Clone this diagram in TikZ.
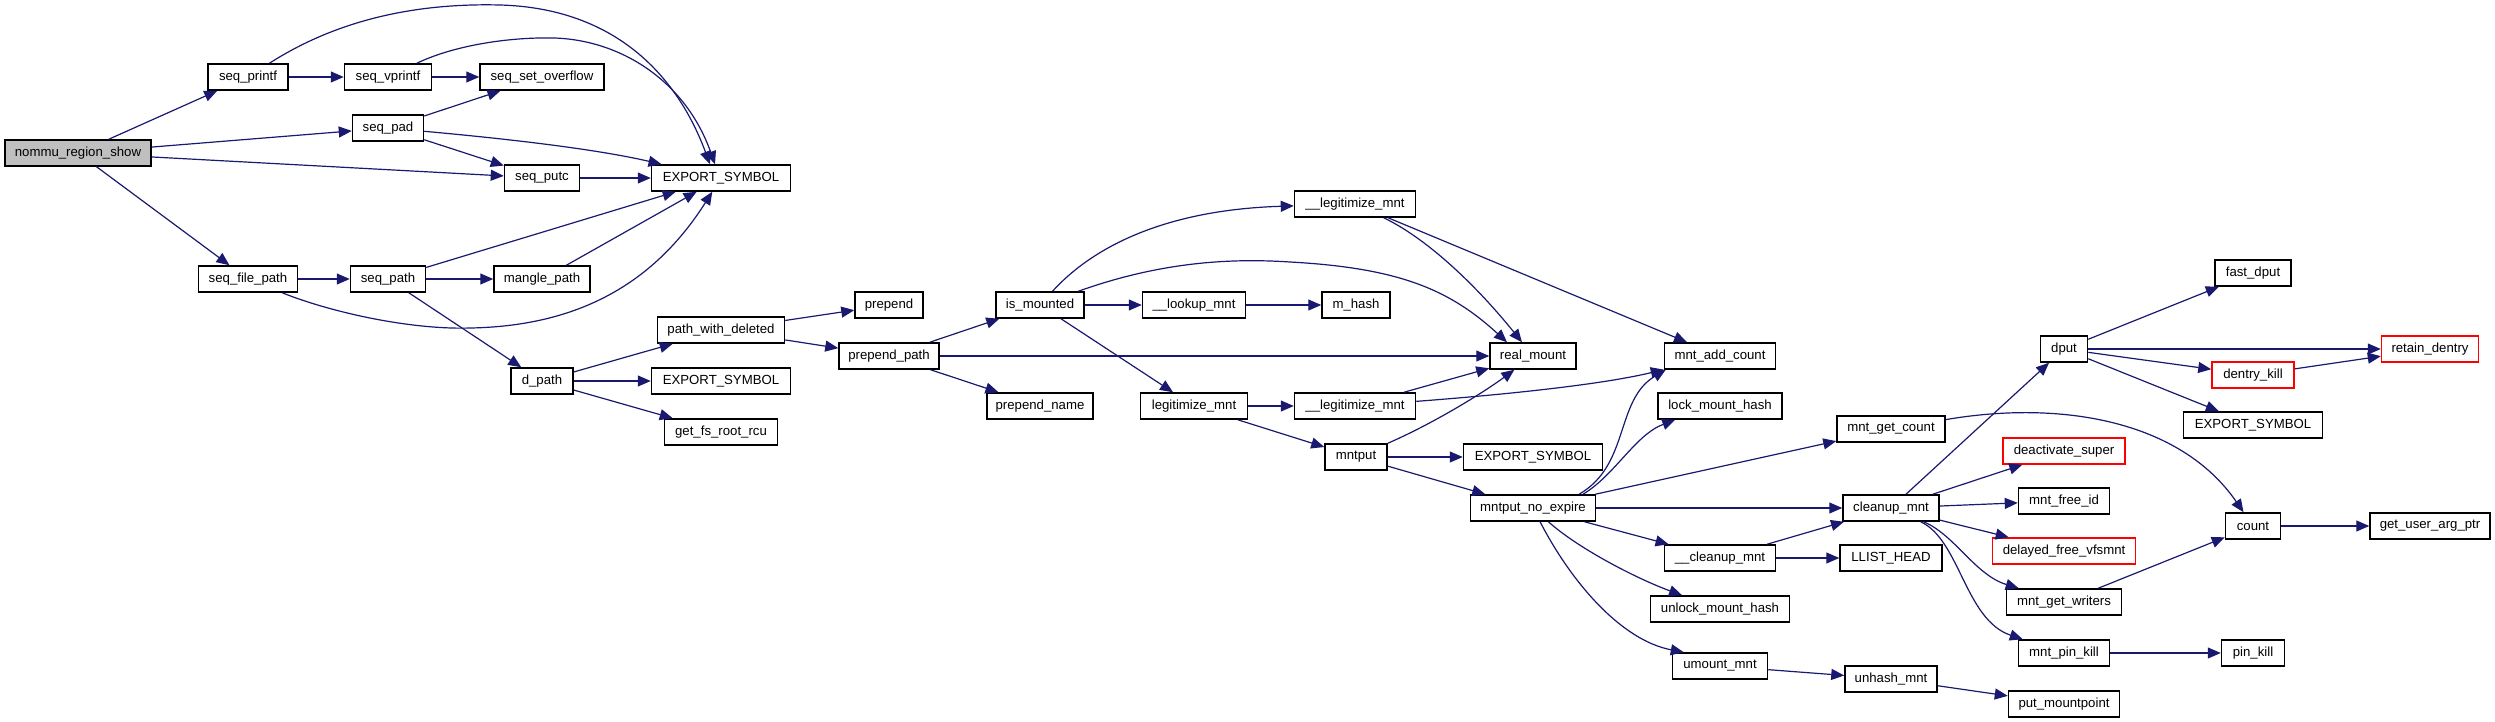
\documentclass[tikz,border=0pt]{standalone}
\usepackage{fontspec}
\setmainfont{Liberation Sans}
\usetikzlibrary{arrows.meta,calc}
\definecolor{navyc}{RGB}{25,25,112}
\definecolor{grayfill}{RGB}{191,191,191}
\begin{document}
\begin{tikzpicture}[x=0.5pt,y=-0.5pt,
  box/.style={draw=black, line width=0.75pt, fill=white, rectangle, minimum height=13pt, inner xsep=1pt, inner ysep=0pt, font=\fontsize{6.6}{8}\selectfont},
  redbox/.style={box, draw=red},
  edge/.style={draw=navyc, line width=0.6pt, -{Triangle[length=6.5pt,width=5.5pt]}}]
\fill[white] (0,0) rectangle (2495,722);
\useasboundingbox (0,0) rectangle (2495,722);
% nodes
\node[box, fill=grayfill, minimum width=73pt] (nommu) at (78,153) {nommu\_region\_show};
\node[box, minimum width=40pt] (sprintf) at (248,77) {seq\_printf};
\node[box, minimum width=43.5pt] (svprintf) at (388,77) {seq\_vprintf};
\node[box, minimum width=62pt] (soverflow) at (542,77) {seq\_set\_overflow};
\node[box, minimum width=35.5pt] (spad) at (388,128) {seq\_pad};
\node[box, minimum width=37.5pt] (sputc) at (542,178) {seq\_putc};
\node[box, minimum width=69.5pt] (expA) at (721,178) {EXPORT\_SYMBOL};
\node[box, minimum width=49.5pt] (sfpath) at (248,279) {seq\_file\_path};
\node[box, minimum width=37.5pt] (spath) at (388,279) {seq\_path};
\node[box, minimum width=48pt] (mangle) at (542,279) {mangle\_path};
\node[box, minimum width=63.5pt] (pwd) at (721,330) {path\_with\_deleted};
\node[box, minimum width=31pt] (dpath) at (542,381) {d\_path};
\node[box, minimum width=69.5pt] (expB) at (721,381) {EXPORT\_SYMBOL};
\node[box, minimum width=56.5pt] (gfr) at (721,432) {get\_fs\_root\_rcu};
\node[box, minimum width=34pt] (prepend) at (889,305) {prepend};
\node[box, minimum width=50pt] (ppath) at (889,356) {prepend\_path};
\node[box, minimum width=44pt] (ismounted) at (1040,305) {is\_mounted};
\node[box, minimum width=53pt] (pname) at (1040,406) {prepend\_name};
\node[box, minimum width=51.5pt] (lookup) at (1194,305) {\_\_lookup\_mnt};
\node[box, minimum width=53.5pt] (legit) at (1194,406) {legitimize\_mnt};
\node[box, minimum width=60.5pt] (ulegitA) at (1355,204) {\_\_legitimize\_mnt};
\node[box, minimum width=34pt] (mhash) at (1356,305) {m\_hash};
\node[box, minimum width=60.5pt] (ulegitB) at (1355,406) {\_\_legitimize\_mnt};
\node[box, minimum width=31pt] (mntput) at (1356,457) {mntput};
\node[box, minimum width=43pt] (realmount) at (1533,356) {real\_mount};
\node[box, minimum width=69.5pt] (expC) at (1533,457) {EXPORT\_SYMBOL};
\node[box, minimum width=62.5pt] (mne) at (1533,508) {mntput\_no\_expire};
\node[box, minimum width=55.5pt] (addcount) at (1720,356) {mnt\_add\_count};
\node[box, minimum width=62pt] (lockmh) at (1720,406) {lock\_mount\_hash};
\node[box, minimum width=55.5pt] (ucleanup) at (1720,558) {\_\_cleanup\_mnt};
\node[box, minimum width=69.5pt] (unlockmh) at (1720,609) {unlock\_mount\_hash};
\node[box, minimum width=47.5pt] (umount) at (1720,666) {umount\_mnt};
\node[box, minimum width=54pt] (getcount) at (1891,429) {mnt\_get\_count};
\node[box, minimum width=48pt] (cleanup) at (1891,508) {cleanup\_mnt};
\node[box, minimum width=51pt] (llist) at (1891,558) {LLIST\_HEAD};
\node[box, minimum width=46pt] (unhash) at (1891,679) {unhash\_mnt};
\node[box, minimum width=23.5pt] (dput) at (2064,349) {dput};
\node[redbox, minimum width=61pt] (deact) at (2064,451) {deactivate\_super};
\node[box, minimum width=45.5pt] (freeid) at (2064,501) {mnt\_free\_id};
\node[redbox, minimum width=71.5pt] (dfv) at (2064,551) {delayed\_free\_vfsmnt};
\node[box, minimum width=57.5pt] (writers) at (2064,602) {mnt\_get\_writers};
\node[box, minimum width=45.5pt] (pinkillm) at (2064,653) {mnt\_pin\_kill};
\node[box, minimum width=55.5pt] (putmp) at (2064,704) {put\_mountpoint};
\node[box, minimum width=38pt] (fastdput) at (2253,273) {fast\_dput};
\node[redbox, minimum width=41pt] (dkill) at (2253,375) {dentry\_kill};
\node[box, minimum width=69.5pt] (expD) at (2253,425) {EXPORT\_SYMBOL};
\node[box, minimum width=27.5pt] (count) at (2253,526) {count};
\node[box, minimum width=31.5pt] (pinkill) at (2253,653) {pin\_kill};
\node[redbox, minimum width=48.5pt] (retain) at (2430,349) {retain\_dentry};
\node[box, minimum width=60pt] (guap) at (2430,526) {get\_user\_arg\_ptr};
% edges
\draw[edge] (nommu) -- (sprintf);
\draw[edge] (nommu) -- (spad);
\draw[edge] (nommu) -- (sputc);
\draw[edge] (nommu) -- (sfpath);
\draw[edge] (sprintf) -- (svprintf);
\draw[edge] (sprintf) .. controls (340,18) and (420,3) .. (500,5) .. controls (610,8) and (675,70) .. ($(expA.north)+(-11,0)$);
\draw[edge] (svprintf) -- (soverflow);
\draw[edge] (svprintf) .. controls (455,45) and (510,37) .. (554,38) .. controls (620,40) and (685,80) .. ($(expA.north)+(-6,0)$);
\draw[edge] (spad) -- (soverflow);
\draw[edge] (spad) .. controls (520,140) and (600,150) .. (expA);
\draw[edge] (spad) -- (sputc);
\draw[edge] (sputc) -- (expA);
\draw[edge] (sfpath) -- (spath);
\draw[edge] (sfpath) .. controls (330,312) and (410,330) .. (471,328) .. controls (570,326) and (650,290) .. (expA);
\draw[edge] (spath) -- (expA);
\draw[edge] (spath) -- (mangle);
\draw[edge] (spath) -- (dpath);
\draw[edge] (mangle) -- (expA);
\draw[edge] (dpath) -- (pwd);
\draw[edge] (dpath) -- (expB);
\draw[edge] (dpath) -- (gfr);
\draw[edge] (pwd) -- (prepend);
\draw[edge] (pwd) -- (ppath);
\draw[edge] (ppath) -- (ismounted);
\draw[edge] (ppath) -- (realmount);
\draw[edge] (ppath) -- (pname);
\draw[edge] (ismounted) .. controls (1090,250) and (1160,210) .. (ulegitA);
\draw[edge] (ismounted) .. controls (1160,262) and (1230,258) .. (1290,262) .. controls (1400,268) and (1450,290) .. ($(realmount.north)+(-26,0)$);
\draw[edge] (ismounted) -- (lookup);
\draw[edge] (ismounted) -- (legit);
\draw[edge] (lookup) -- (mhash);
\draw[edge] (ulegitA) .. controls (1430,240) and (1480,290) .. (realmount);
\draw[edge] (ulegitA) -- (addcount);
\draw[edge] (legit) -- (ulegitB);
\draw[edge] (legit) -- (mntput);
\draw[edge] (ulegitB) -- (realmount);
\draw[edge] (ulegitB) .. controls (1500,395) and (1600,385) .. (addcount);
\draw[edge] (mntput) .. controls (1430,425) and (1480,395) .. (realmount);
\draw[edge] (mntput) -- (expC);
\draw[edge] (mntput) -- (mne);
\draw[edge] ($(mne.north)+(46,0)$) .. controls (1630,465) and (1615,400) .. ($(addcount.south west)+(2,0)$);
\draw[edge] ($(mne.north)+(50,0)$) .. controls (1615,475) and (1635,435) .. ($(lockmh.south west)+(18,0)$);
\draw[edge] (mne) -- (getcount);
\draw[edge] (mne) -- (cleanup);
\draw[edge] (mne) -- (ucleanup);
\draw[edge] (mne) .. controls (1580,550) and (1640,580) .. (unlockmh);
\draw[edge] (mne) .. controls (1570,580) and (1620,640) .. ($(umount.north west)+(12,0)$);
\draw[edge] (ucleanup) -- (cleanup);
\draw[edge] (ucleanup) -- (llist);
\draw[edge] (getcount) .. controls (2060,400) and (2180,420) .. (count);
\draw[edge] (cleanup) -- (dput);
\draw[edge] (cleanup) -- (deact);
\draw[edge] (cleanup) -- (freeid);
\draw[edge] (cleanup) -- (dfv);
\draw[edge] (cleanup) .. controls (1955,535) and (1975,575) .. (writers);
\draw[edge] (cleanup) .. controls (1960,540) and (1965,620) .. (pinkillm);
\draw[edge] (umount) -- (unhash);
\draw[edge] (unhash) -- (putmp);
\draw[edge] (dput) -- (fastdput);
\draw[edge] (dput) -- (retain);
\draw[edge] (dput) -- (dkill);
\draw[edge] (dput) -- (expD);
\draw[edge] (dkill) -- (retain);
\draw[edge] (count) -- (guap);
\draw[edge] (writers) -- (count);
\draw[edge] (pinkillm) -- (pinkill);
\end{tikzpicture}
\end{document}
